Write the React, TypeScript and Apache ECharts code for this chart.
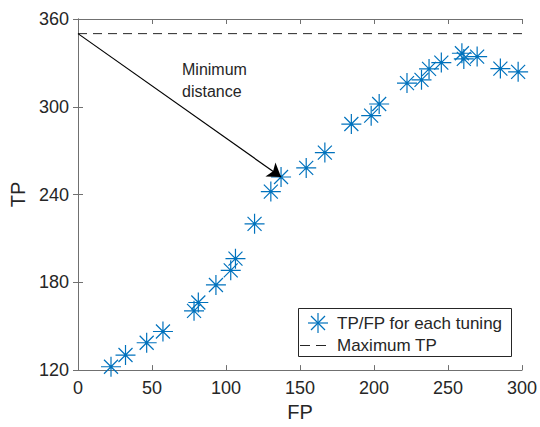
import React, { useEffect, useRef } from "react";
import * as echarts from "echarts";

const fpValues = [22.3, 32.1, 46.4, 57.4, 78.4, 81.3, 93.2, 103.2, 106.4, 119.3, 130.3, 137.2, 154.2, 166.8, 184.7, 198.1, 203.5, 222.3, 232.1, 237.2, 245.5, 259.4, 260.7, 269.7, 285.4, 297.4];
const tpValues = [122.3, 130.3, 138.7, 146.4, 160.5, 166.2, 178.2, 188.2, 196.2, 220.0, 242.0, 252.0, 258.2, 268.7, 288.2, 293.9, 301.9, 316.2, 318.4, 325.9, 330.2, 336.6, 332.7, 334.3, 326.1, 323.9];
const maxTP = 350;
const minDistanceIndex = 11;
const xTicks = [0, 50, 100, 150, 200, 250, 300];
const yTicks = [120, 180, 240, 300, 360];
const seriesNames = ["TP/FP for each tuning", "Maximum TP"];
const annotation = "Minimum\ndistance";

const STAR = "path://M0,-10L0,10M-10,0L10,0M-7,-7L7,7M-7,7L7,-7";
const FONT = "'Liberation Sans', Arial, Helvetica, sans-serif";
const AXIS_COLOR = "#707070";
const TEXT_COLOR = "#262626";
const BLUE = "#0072BD";

function legendStar(cx: number, cy: number) {
  const s = { stroke: BLUE, lineWidth: 1.2 };
  const segs = [
    [cx, cy - 10, cx, cy + 10],
    [cx - 10, cy, cx + 10, cy],
    [cx - 7, cy - 7, cx + 7, cy + 7],
    [cx - 7, cy + 7, cx + 7, cy - 7],
  ];
  return segs.map(([x1, y1, x2, y2]) => ({ type: "line", z: 11, shape: { x1, y1, x2, y2 }, style: s }));
}

export default function App() {
  const ref = useRef<HTMLDivElement>(null);
  useEffect(() => {
    if (!ref.current) return;
    const chart = echarts.init(ref.current, null, { renderer: "svg" });
    const points = fpValues.map((x, i) => [x, tpValues[i]]);
    const xMin = xTicks[0];
    const xMax = xTicks[xTicks.length - 1];
    const yMin = yTicks[0];
    const yMax = yTicks[yTicks.length - 1];
    const common = {
      axisLine: { show: true, lineStyle: { color: AXIS_COLOR, width: 1 } },
      axisTick: { show: true, inside: true, length: 5, lineStyle: { color: AXIS_COLOR } },
      splitLine: { show: false },
    };
    chart.setOption({
      animation: false,
      backgroundColor: "#fff",
      textStyle: { fontFamily: FONT },
      grid: { left: 78, right: 15, top: 19, bottom: 56, containLabel: false },
      xAxis: [
        {
          type: "value", min: xMin, max: xMax, interval: 50, position: "bottom",
          name: "FP", nameLocation: "middle", nameGap: 31,
          nameTextStyle: { fontSize: 20, color: TEXT_COLOR, fontFamily: FONT },
          axisLabel: { fontSize: 18, color: TEXT_COLOR, margin: 9, fontFamily: FONT },
          ...common,
        },
        {
          type: "value", min: xMin, max: xMax, interval: 50, position: "top",
          axisLabel: { show: false }, ...common,
        },
      ],
      yAxis: [
        {
          type: "value", min: yMin, max: yMax, interval: 60, position: "left",
          name: "TP", nameLocation: "middle", nameGap: 46,
          nameTextStyle: { fontSize: 20, color: TEXT_COLOR, fontFamily: FONT },
          axisLabel: { fontSize: 18, color: TEXT_COLOR, margin: 9, fontFamily: FONT },
          ...common,
        },
        {
          type: "value", min: yMin, max: yMax, interval: 60, position: "right",
          axisLabel: { show: false }, ...common,
        },
      ],
      series: [
        {
          name: seriesNames[0],
          type: "scatter",
          data: points,
          symbol: STAR,
          symbolSize: 20,
          symbolKeepAspect: true,
          itemStyle: { color: "none", borderColor: BLUE, borderWidth: 1.2, opacity: 1 },
          z: 3,
        },
        {
          name: seriesNames[1],
          type: "line",
          data: [[xMin, maxTP], [xMax, maxTP]],
          symbol: "none",
          lineStyle: { color: "#262626", width: 1, type: [9, 6] },
          itemStyle: { color: "#262626" },
          z: 2,
        },
        {
          name: "arrow",
          type: "line",
          data: [],
          symbol: "none",
          markLine: {
            silent: true,
            symbol: ["none", "arrow"],
            symbolSize: 13,
            label: { show: false },
            itemStyle: { color: "#000" },
            lineStyle: { color: "#000", width: 1.2, type: "solid" },
            data: [[{ coord: [xMin, maxTP] }, { coord: points[minDistanceIndex] }]],
          },
          z: 4,
        },
      ],
      graphic: [
        {
          type: "text",
          left: 182,
          top: 58,
          style: { text: annotation, font: `16px ${FONT}`, fill: TEXT_COLOR, lineHeight: 22 },
        },
        {
          type: "rect",
          shape: { x: 298.5, y: 308.5, width: 213, height: 48 },
          style: { fill: "#fff", stroke: "#262626", lineWidth: 1 },
          z: 10,
        },
        ...legendStar(318, 323),
        {
          type: "line",
          shape: { x1: 300, y1: 345.5, x2: 328, y2: 345.5 },
          style: { stroke: "#262626", lineWidth: 1, lineDash: [10, 6] },
          z: 11,
        },
        {
          type: "text", x: 337, y: 323, z: 11,
          style: { text: seriesNames[0], font: `17px ${FONT}`, fill: TEXT_COLOR, verticalAlign: "middle" },
        },
        {
          type: "text", x: 337, y: 345, z: 11,
          style: { text: seriesNames[1], font: `17px ${FONT}`, fill: TEXT_COLOR, verticalAlign: "middle" },
        },
      ],
    });
    return () => chart.dispose();
  }, []);
  return <div ref={ref} style={{ position: "fixed", left: 0, top: 0, width: 540, height: 427 }} />;
}
